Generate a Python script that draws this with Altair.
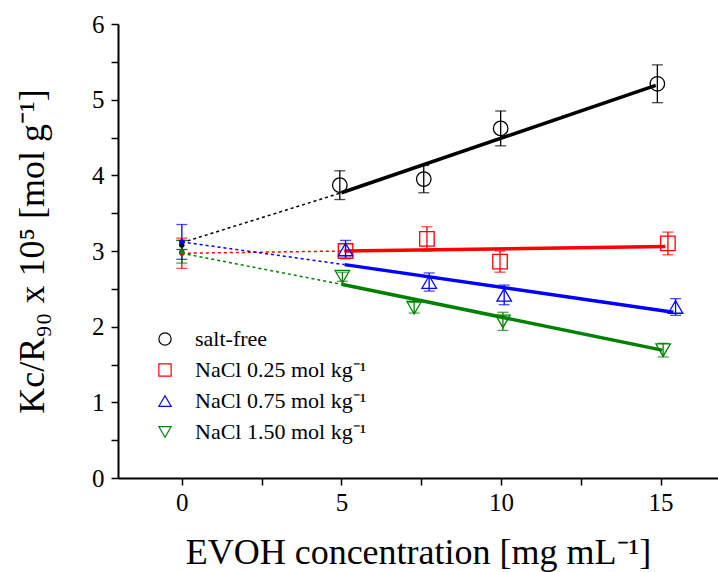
import altair as alt
import pandas as pd

# ---- data ----
series = ["salt-free", "NaCl 0.25 mol kg⁻¹", "NaCl 0.75 mol kg⁻¹", "NaCl 1.50 mol kg⁻¹"]
colors = ["#000000", "#ff0000", "#0000ff", "#008000"]
shapes = ["circle", "square", "triangle-up", "triangle-down"]

conc = [
    [4.95, 7.58, 9.99, 14.9],
    [5.13, 7.68, 9.97, 15.23],
    [5.13, 7.75, 10.1, 15.47],
    [5.03, 7.28, 10.06, 15.08],
]
kc = [
    [3.87, 3.95, 4.62, 5.21],
    [3.00, 3.16, 2.86, 3.10],
    [3.02, 2.59, 2.42, 2.26],
    [2.66, 2.25, 2.07, 1.69],
]
err = [
    [0.19, 0.18, 0.23, 0.25],
    [0.10, 0.16, 0.14, 0.15],
    [0.12, 0.12, 0.13, 0.11],
    [0.06, 0.07, 0.12, 0.09],
]

# extrapolated intercepts at c = 0
icpt = [3.08, 2.97, 3.12, 2.99]
icpt_err = [0.06, 0.20, 0.23, 0.15]

# linear fits
fit_x0 = [5.0, 5.1, 5.1, 5.0]
fit_x1 = [14.85, 15.15, 15.4, 15.05]
fit_y0 = [3.77, 3.00, 2.82, 2.56]
fit_y1 = [5.19, 3.06, 2.19, 1.69]
fit_icpt = [3.11, 2.97, 3.12, 2.97]

x_ticks = [0, 2.5, 5, 7.5, 10, 12.5, 15]
y_ticks = [0, 0.5, 1, 1.5, 2, 2.5, 3, 3.5, 4, 4.5, 5, 5.5, 6]

# ---- tables ----
pts, bars, caps, solid, dashed, zero = [], [], [], [], [], []
for i, s in enumerate(series):
    for x, y, e in zip(conc[i], kc[i], err[i]):
        pts.append({"s": s, "x": x, "y": y})
        bars.append({"s": s, "x": x, "lo": y - e, "hi": y + e})
        caps += [{"s": s, "x": x, "y": y - e}, {"s": s, "x": x, "y": y + e}]
    zero.append({"s": s, "x": 0, "y": icpt[i]})
    bars.append({"s": s, "x": 0, "lo": icpt[i] - icpt_err[i], "hi": icpt[i] + icpt_err[i]})
    caps += [{"s": s, "x": 0, "y": icpt[i] - icpt_err[i]}, {"s": s, "x": 0, "y": icpt[i] + icpt_err[i]}]
    solid += [{"s": s, "x": fit_x0[i], "y": fit_y0[i]}, {"s": s, "x": fit_x1[i], "y": fit_y1[i]}]
    dashed += [{"s": s, "x": 0, "y": fit_icpt[i]}, {"s": s, "x": fit_x0[i], "y": fit_y0[i]}]

FONT = "Liberation Serif"
xscale = alt.Scale(domain=[-2, 16.8], nice=False, zero=False)
yscale = alt.Scale(domain=[0, 6], nice=False)
cscale = alt.Scale(domain=series, range=colors)
sscale = alt.Scale(domain=series, range=shapes)

xaxis = alt.Axis(
    title="EVOH concentration [mg mL⁻¹]", values=x_ticks,
    labelExpr="datum.value % 5 == 0 ? format(datum.value, 'd') : ''",
    grid=False, tickSize=7, labelFontSize=25, titleFontSize=36,
    labelPadding=5, titlePadding=20,
    labelFont=FONT, titleFont=FONT, titleFontWeight="normal",
)
yaxis = alt.Axis(
    title="Kc/R₉₀ x 10⁵ [mol g⁻¹]", values=y_ticks,
    labelExpr="datum.value % 1 == 0 ? format(datum.value, 'd') : ''",
    grid=False, tickSize=7, labelFontSize=25, titleFontSize=36,
    labelPadding=7, titlePadding=40,
    labelFont=FONT, titleFont=FONT, titleFontWeight="normal",
)

legend = alt.Legend(
    title=None, orient="none", legendX=36, legendY=304,
    labelFont=FONT, labelFontSize=22, labelColor="#000", labelLimit=0,
    symbolSize=150, symbolStrokeWidth=1.2,
    rowPadding=9, labelOffset=19, padding=0,
)

base_x = alt.X("x:Q", scale=xscale, axis=xaxis)
base_y = alt.Y("y:Q", scale=yscale, axis=yaxis)
col = alt.Color("s:N", scale=cscale, legend=None)

pt_layer = alt.Chart(pd.DataFrame(pts)).mark_point(
    filled=False, size=210, strokeWidth=1.3, opacity=1
).encode(
    x=base_x, y=base_y,
    color=alt.Color("s:N", scale=cscale, legend=legend),
    shape=alt.Shape("s:N", scale=sscale, legend=legend),
)

dash_layer = alt.Chart(pd.DataFrame(dashed)).mark_line(
    strokeWidth=1.5, strokeDash=[3, 3]
).encode(x=base_x, y=base_y, color=col, detail="s:N")

solid_layer = alt.Chart(pd.DataFrame(solid)).mark_line(
    strokeWidth=3.5
).encode(x=base_x, y=base_y, color=col, detail="s:N")

bar_layer = alt.Chart(pd.DataFrame(bars)).mark_rule(strokeWidth=1.3).encode(
    x=base_x, y=alt.Y("lo:Q", scale=yscale, axis=yaxis), y2="hi:Q", color=col
)

cap_layer = alt.Chart(pd.DataFrame(caps)).mark_tick(
    orient="horizontal", size=11, thickness=1.3
).encode(x=base_x, y=base_y, color=col)

zero_layer = alt.Chart(pd.DataFrame(zero)).mark_point(
    filled=True, size=30, opacity=1
).encode(x=base_x, y=base_y, color=col)

chart = alt.layer(
    dash_layer, solid_layer, bar_layer, cap_layer, zero_layer, pt_layer
).resolve_legend(
    color="independent", shape="independent"
).properties(
    width=600, height=454,
    padding={"left": 118, "top": 24, "right": 0, "bottom": 94},
    autosize="none",
    background="white",
).configure_view(stroke=None).configure_axis(
    labelColor="#000", titleColor="#000",
    domainColor="#000", tickColor="#000", domainWidth=2, tickWidth=1.5,
)

chart.save("out.html", embed_options={"renderer": "svg", "actions": False})
